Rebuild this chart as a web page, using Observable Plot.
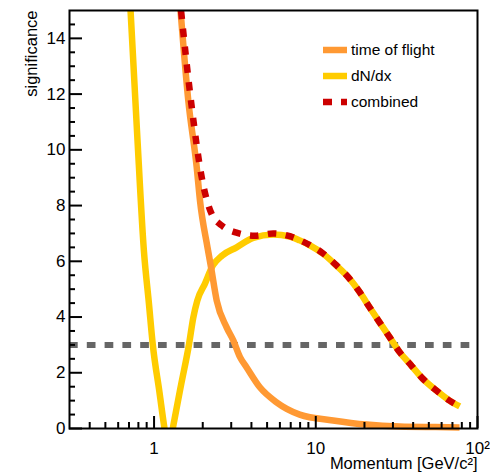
<!DOCTYPE html>
<html>
<head>
<meta charset="utf-8">
<script src="https://cdn.jsdelivr.net/npm/d3@7"></script>
<script src="https://cdn.jsdelivr.net/npm/@observablehq/plot@0.6"></script>
<style>
  html, body { margin: 0; padding: 0; background: white; }
  #wrap { position: relative; width: 490px; height: 473px; font-family: "Liberation Sans", Arial, Helvetica, sans-serif; }
  #legend { position: absolute; left: 323px; top: 40px; }
  .row { display: flex; align-items: center; height: 20px; margin-bottom: 6px; font-size: 15.5px; color: #000; white-space: nowrap; }
  .row svg { margin-right: 4px; display: block; }
</style>
</head>
<body>
<div id="wrap"><div id="legend"></div></div>
<script>
// ---- data ----
const tofP  = [1.458, 1.628, 1.835, 1.923, 2.14, 2.25, 2.44, 2.81, 3.09, 3.40, 3.73, 4.51, 5.72, 7.96, 12.8, 20.6, 33.0, 55.0, 77.4];
const tofS  = [15.0, 11.77, 9.38, 8.18, 6.5, 5.79, 4.59, 3.63, 3.16, 2.56, 2.2, 1.48, 0.94, 0.5, 0.29, 0.14, 0.07, 0.05, 0.04];

const dndxP = [0.705, 0.784, 0.865, 0.929, 0.982, 1.08, 1.153, 1.229, 1.316, 1.468, 1.644, 1.748, 1.851, 2.065, 2.31, 2.64, 3.24, 4.1, 5.45, 6.9, 7.96, 9.2, 11.1, 13.4, 16.2, 18.7, 21.5, 24.8, 28.6, 33.0, 39.0, 46.0, 55.7, 67.2, 77.6];
const dndxS = [15.7, 10.7, 6.39, 4.5, 3.01, 1.3, 0.11, -0.86, 0.11, 1.56, 3.01, 3.98, 4.59, 5.2, 5.85, 6.21, 6.5, 6.84, 6.96, 6.89, 6.75, 6.57, 6.27, 5.85, 5.37, 4.89, 4.35, 3.81, 3.28, 2.74, 2.26, 1.78, 1.36, 1.0, 0.79];

const combP = [1.468, 1.71, 1.97, 2.27, 2.63, 3.27, 4.2, 5.45, 6.9, 7.96, 9.2, 11.1, 13.4, 16.2, 18.7, 21.5, 24.8, 28.6, 33.0, 39.0, 46.0, 55.7, 67.2, 77.6];
const combS = [15.0, 11.53, 9.02, 7.7, 7.28, 7.02, 6.92, 7.0, 6.9, 6.76, 6.58, 6.28, 5.86, 5.37, 4.89, 4.35, 3.81, 3.28, 2.74, 2.26, 1.78, 1.36, 1.0, 0.79];

const threshold = [3];

const yMajor = [0, 2, 4, 6, 8, 10, 12, 14];
const yMinor = [0.5, 1, 1.5, 2.5, 3, 3.5, 4.5, 5, 5.5, 6.5, 7, 7.5, 8.5, 9, 9.5, 10.5, 11, 11.5, 12.5, 13, 13.5, 14.5];
const xMajor = [1, 10, 100];
const xLabels = ["1", "10", "10\u00B2"];
const xMinor = [0.4, 0.5, 0.6, 0.7, 0.8, 0.9, 2, 3, 4, 5, 6, 7, 8, 9, 20, 30, 40, 50, 60, 70, 80, 90];

const seriesNames = ["time of flight", "dN/dx", "combined"];
const seriesColors = ["#ff9933", "#ffcc00", "#cc0000"];

// ---- build tables ----
const tof  = tofP.map((p, i) => ({p, s: tofS[i]}));
const dndx = dndxP.map((p, i) => ({p, s: dndxS[i]}));
const comb = combP.map((p, i) => ({p, s: combS[i]}));
const xLabelFor = new Map(xMajor.map((v, i) => [v, xLabels[i]]));

const chart = Plot.plot({
  width: 490,
  height: 473,
  marginLeft: 69,
  marginRight: 13,
  marginTop: 10,
  marginBottom: 45,
  x: {type: "log", domain: [0.3, 100]},
  y: {domain: [0, 15]},
  style: {fontFamily: "'Liberation Sans', Arial, Helvetica, sans-serif", fontSize: "17px", color: "#000", background: "white"},
  marks: [
    Plot.ruleY(threshold, {stroke: "#666666", strokeWidth: 6, strokeDasharray: "8.7,9.1"}),
    Plot.line(dndx, {x: "p", y: "s", stroke: seriesColors[1], strokeWidth: 6.5, curve: "monotone-x", strokeLinecap: "butt", clip: true}),
    Plot.line(tof,  {x: "p", y: "s", stroke: seriesColors[0], strokeWidth: 6.5, curve: "monotone-x", strokeLinecap: "butt"}),
    Plot.line(comb, {x: "p", y: "s", stroke: seriesColors[2], strokeWidth: 6.5, curve: "monotone-x", strokeLinecap: "butt", strokeDasharray: "8.5,9.5"}),
    Plot.frame({stroke: "#000", strokeWidth: 2}),
    Plot.axisY({ticks: yMajor, tickSize: -13, tickPadding: 17, strokeWidth: 2, tickFormat: d => String(d), label: null, fontSize: 17}),
    Plot.axisY({ticks: yMinor, tickSize: -6, strokeWidth: 2, tickFormat: () => "", label: null}),
    Plot.axisX({ticks: xMajor, tickSize: -12, tickPadding: 25, strokeWidth: 2, tickFormat: d => xLabelFor.get(d), label: null, fontSize: 17}),
    Plot.axisX({ticks: xMinor, tickSize: -6, strokeWidth: 2, tickFormat: () => "", label: null}),
    Plot.text(["significance"], {frameAnchor: "top-left", rotate: -90, textAnchor: "end", lineAnchor: "middle", dx: -38, fontSize: 16.5}),
    Plot.text(["Momentum [GeV/c\u00B2]"], {frameAnchor: "bottom-right", textAnchor: "end", lineAnchor: "middle", dy: 35.5, fontSize: 16.5})
  ]
});

const wrap = document.getElementById("wrap");
wrap.insertBefore(chart, wrap.firstChild);

// ---- legend ----
const legend = document.getElementById("legend");
seriesNames.forEach((name, i) => {
  const row = document.createElement("div");
  row.className = "row";
  const dash = i === 2 ? ' stroke-dasharray="9,9"' : "";
  row.innerHTML = `<svg width="24" height="8"><line x1="0" y1="4" x2="24" y2="4" stroke="${seriesColors[i]}" stroke-width="6.5"${dash}/></svg><span>${name}</span>`;
  legend.appendChild(row);
});
</script>
</body>
</html>
